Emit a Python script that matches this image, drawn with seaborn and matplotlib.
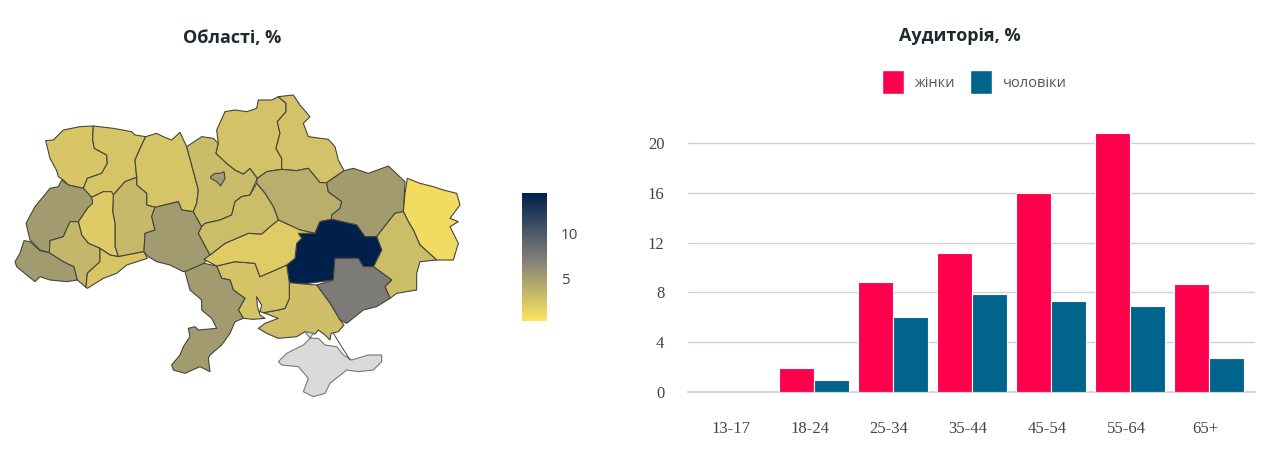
import numpy as np
import pandas as pd
import seaborn as sns
import matplotlib.pyplot as plt
from matplotlib.cm import ScalarMappable
from matplotlib.colors import Normalize
from matplotlib.patches import Patch

sns.set_theme(style="white")
plt.rcParams['font.family'] = ['Open Sans', 'DejaVu Sans']

# bar chart data
age_groups = ["13-17", "18-24", "25-34", "35-44", "45-54", "55-64", "65+"]
women = [0, 1.9, 8.8, 11.2, 16.0, 20.8, 8.7]
men = [0, 1.0, 6.0, 7.9, 7.3, 6.9, 2.7]

# map data, outlines (crop units, 3 per pixel)
volyn = [(137,182),(160,180),(190,150),(240,140),(280,138),(278,180),(283,205),(320,225),(322,250),(305,280),(262,295),(250,325),(205,315),(190,300),(175,290),(170,272),(150,235)]
rivne = [(280,138),(340,145),(395,155),(405,165),(437,170),(425,195),(405,240),(410,292),(375,305),(340,345),(310,335),(275,352),(250,325),(262,295),(305,280),(322,250),(320,225),(283,205),(278,180)]
zhytomyr = [(437,170),(470,160),(490,170),(515,180),(540,157),(560,200),(575,255),(595,330),(590,370),(580,395),(545,390),(535,365),(465,382),(440,375),(440,340),(410,315),(410,292),(405,240),(425,195)]
khmelnytskyi = [(340,345),(375,305),(410,292),(410,315),(440,340),(440,375),(465,382),(455,410),(465,450),(435,460),(432,515),(380,525),(355,530),(345,500),(345,430),(338,395)]
ternopil = [(235,425),(262,385),(275,352),(310,335),(335,335),(340,345),(338,395),(345,430),(345,500),(355,530),(330,525),(300,505),(265,490),(245,465)]
lviv = [(150,325),(175,320),(185,300),(205,315),(250,325),(275,352),(278,370),(262,385),(235,425),(210,425),(190,470),(150,482),(148,518),(120,510),(90,480),(78,430),(105,380)]
zakarpattia = [(72,482),(90,485),(120,512),(148,518),(190,545),(222,560),(232,600),(200,605),(150,600),(120,590),(105,605),(80,585),(50,560),(45,545),(60,520)]
ivano_frankivsk = [(150,482),(190,470),(210,425),(235,425),(245,465),(265,490),(300,505),(300,545),(262,580),(258,622),(232,600),(222,560),(190,545),(148,518)]
chernivtsi = [(300,505),(330,525),(355,530),(380,525),(432,515),(442,535),(380,555),(350,580),(310,595),(262,625),(258,622),(262,580),(300,545)]
vinnytsia = [(465,382),(535,365),(545,390),(580,395),(605,440),(595,460),(630,525),(612,550),(570,570),(550,575),(510,555),(470,545),(445,530),(432,515),(435,460),(465,450),(455,410)]
kyiv_obl = [(560,200),(605,170),(640,175),(655,190),(648,220),(680,250),(705,270),(730,282),(750,265),(772,295),(765,310),(750,345),(725,350),(705,365),(695,405),(660,420),(615,430),(605,440),(580,395),(590,370),(595,330),(575,255)]
kyiv_city = [(632,290),(645,280),(660,280),(672,275),(675,295),(662,318),(650,305),(632,295)]
chernihiv = [(650,150),(675,95),(705,90),(740,95),(770,85),(775,60),(815,60),(835,50),(858,70),(858,95),(832,125),(840,160),(828,205),(845,235),(845,268),(800,275),(772,295),(750,265),(730,282),(705,270),(680,250),(648,220),(655,190)]
sumy = [(835,50),(880,45),(900,75),(930,110),(910,130),(925,170),(985,178),(1005,200),(1015,240),(1032,272),(980,308),(960,308),(925,265),(890,272),(845,268),(845,235),(828,205),(840,160),(832,125),(858,95),(858,70)]
poltava = [(772,295),(800,275),(845,268),(890,272),(925,265),(960,308),(980,308),(985,335),(1025,365),(1020,385),(995,405),(995,418),(960,425),(945,460),(900,450),(835,420),(820,380),(795,340),(770,310)]
kharkiv = [(980,308),(1032,272),(1060,265),(1105,280),(1165,258),(1215,305),(1210,395),(1185,400),(1165,425),(1130,470),(1095,470),(1070,435),(995,418),(995,405),(1020,385),(1025,365),(985,335)]
luhansk = [(1222,295),(1260,310),(1300,320),(1330,330),(1370,340),(1380,375),(1350,415),(1375,425),(1350,440),(1375,490),(1360,540),(1310,540),(1260,495),(1240,450),(1225,425),(1210,395),(1215,340)]
donetsk = [(1130,470),(1165,425),(1185,400),(1210,395),(1225,425),(1240,450),(1260,495),(1310,540),(1260,545),(1250,580),(1250,630),(1190,640),(1170,655),(1155,620),(1175,600),(1120,560),(1145,510)]
dnipro = [(945,460),(960,425),(995,418),(1070,435),(1095,470),(1130,470),(1145,510),(1120,560),(1090,560),(1075,535),(1005,535),(1000,600),(910,612),(868,608),(860,555),(885,535),(890,490),(905,475),(895,460),(920,460)]
zaporizhzhia = [(1005,535),(1075,535),(1090,560),(1120,560),(1175,600),(1155,620),(1170,655),(1130,680),(1090,690),(1040,730),(1020,720),(990,670),(950,615),(1000,600)]
kherson = [(868,608),(910,612),(950,615),(990,670),(1020,720),(1032,735),(1015,755),(993,760),(990,780),(975,765),(955,750),(945,762),(915,755),(890,770),(835,775),(800,760),(775,745),(795,730),(835,715),(790,698),(835,690),(855,685),(868,655)]
mykolaiv = [(650,558),(705,545),(765,550),(780,590),(815,575),(860,555),(868,608),(868,655),(855,685),(835,690),(790,698),(780,695),(785,675),(770,650),(772,678),(780,705),(795,715),(760,718),(730,715),(715,690),(735,655),(700,630),(690,600),(665,595)]
kirovohrad = [(612,538),(630,525),(675,490),(745,460),(785,462),(810,440),(835,420),(900,450),(945,460),(920,460),(895,460),(905,475),(890,490),(885,535),(860,555),(815,575),(780,590),(765,550),(705,545),(650,558)]
cherkasy = [(605,440),(615,430),(660,420),(695,405),(705,365),(725,350),(750,345),(770,310),(795,340),(820,380),(835,420),(810,440),(785,462),(745,460),(675,490),(630,525),(595,460)]
odesa = [(555,575),(612,550),(650,558),(665,595),(690,600),(700,630),(735,655),(715,690),(730,715),(705,725),(690,760),(665,795),(630,825),(625,835),(630,875),(600,860),(555,880),(520,870),(515,855),(540,825),(550,800),(570,770),(565,745),(585,740),(595,750),(650,745),(635,715),(605,690),(605,660),(570,630)]
crimea = [(915,755),(940,760),(930,775),(955,775),(975,795),(1010,800),(1030,825),(1055,840),(1105,825),(1145,825),(1145,845),(1120,870),(1075,875),(1040,870),(990,910),(975,940),(940,950),(910,935),(925,895),(895,860),(845,855),(835,845),(860,820),(910,795),(930,775)]
kerch_link_x = [1000, 1050]
kerch_link_y = [760, 840]

outlines = [volyn, rivne, zhytomyr, khmelnytskyi, ternopil, lviv, zakarpattia, ivano_frankivsk,
            chernivtsi, vinnytsia, kyiv_obl, kyiv_city, chernihiv, sumy, poltava, kharkiv, luhansk,
            donetsk, dnipro, zaporizhzhia, kherson, mykolaiv, kirovohrad, cherkasy, odesa]
shares = [2.4, 2.5, 2.5, 3.3, 2.1, 5.3, 5.3, 3.4,
          2.4, 5.3, 3.1, 5.3, 2.7, 2.7, 4.0, 5.3, 1.05,
          3.0, 14.5, 7.4, 2.9, 2.6, 2.0, 3.0, 5.3]

df = pd.DataFrame({"age": age_groups, "жінки": women, "чоловіки": men})
df = df.melt(id_vars="age", var_name="sex", value_name="share")

fig = plt.figure(figsize=(12.86, 4.68), dpi=100)
W, H = 1286, 468

# map, one axis over the whole figure
map_ax = fig.add_axes([0, 0, 1, 1])
map_ax.set_xlim(0, W * 3)
map_ax.set_ylim((H - 80) * 3, -80 * 3)
map_ax.axis("off")

cmap = sns.blend_palette(["#fde55f", "#7c7b78", "#00204c"], as_cmap=True)
norm = Normalize(0.33, 14.55)
for pts, val in zip(outlines, shares):
    xs, ys = zip(*pts)
    map_ax.fill(xs, ys, facecolor=cmap(norm(val)), edgecolor="#45453a", linewidth=0.8, joinstyle="round")
xs, ys = zip(*crimea)
map_ax.fill(xs, ys, facecolor="#dadada", edgecolor="#777777", linewidth=0.8, joinstyle="round")
map_ax.plot(kerch_link_x, kerch_link_y, color="#45453a", linewidth=0.7)

fig.text(232 / W, 1 - 38 / H, "Області, %", ha="center", va="center",
         fontsize=13, fontweight="bold", color="#1f2a30")

# colorbar
cax = fig.add_axes([522 / W, 1 - 321 / H, 25 / W, 128 / H])
cb = fig.colorbar(ScalarMappable(norm=norm, cmap=cmap), cax=cax, ticks=[5, 10])
cb.outline.set_visible(False)
cax.tick_params(axis="y", direction="in", left=True, right=True, length=5, width=0.7,
                color="white", labelsize=11, labelcolor="#444444", pad=10)

# bars
ax = fig.add_axes([688 / W, 1 - 392 / H, 567 / W, 261.5 / H])
sns.barplot(data=df, x="age", y="share", hue="sex", palette=["#ff004d", "#00648c"], saturation=1,
            width=0.89, gap=0.02, edgecolor="white", linewidth=0.8, ax=ax, legend=False, zorder=3)
ax.set_xlim(-0.595, 6.582)
ax.set_ylim(0, 21)
ax.set_xlabel("")
ax.set_ylabel("")
ax.set_yticks([0, 4, 8, 12, 16, 20])
ax.set_xticks(np.arange(len(age_groups)) - 0.05, age_groups)
ax.grid(axis="y", color="#cfd1de", linewidth=1)
ax.set_axisbelow(True)
sns.despine(ax=ax, left=True, bottom=True)
ax.spines["bottom"].set_visible(True)
ax.spines["bottom"].set_color("#cfd1de")
ax.tick_params(axis="both", length=0, labelsize=11, labelcolor="#444444")
ax.tick_params(axis="x", pad=21)
ax.tick_params(axis="y", pad=17)
for lab in ax.get_xticklabels() + ax.get_yticklabels():
    lab.set_fontfamily("Liberation Serif")
    lab.set_fontsize(12)

fig.text(960 / W, 1 - 36 / H, "Аудиторія, %", ha="center", va="center",
         fontsize=13, fontweight="bold", color="#1f2a30")

handles = [Patch(facecolor="#ff004d", label="жінки"), Patch(facecolor="#00648c", label="чоловіки")]
fig.legend(handles=handles, ncol=2, loc="center", bbox_to_anchor=(974 / W, 1 - 82 / H), frameon=False,
           fontsize=10.5, labelcolor="#555555", handlelength=1.5, handleheight=2.1,
           handletextpad=0.7, columnspacing=1.1)

fig.savefig("out.png", dpi=100)
